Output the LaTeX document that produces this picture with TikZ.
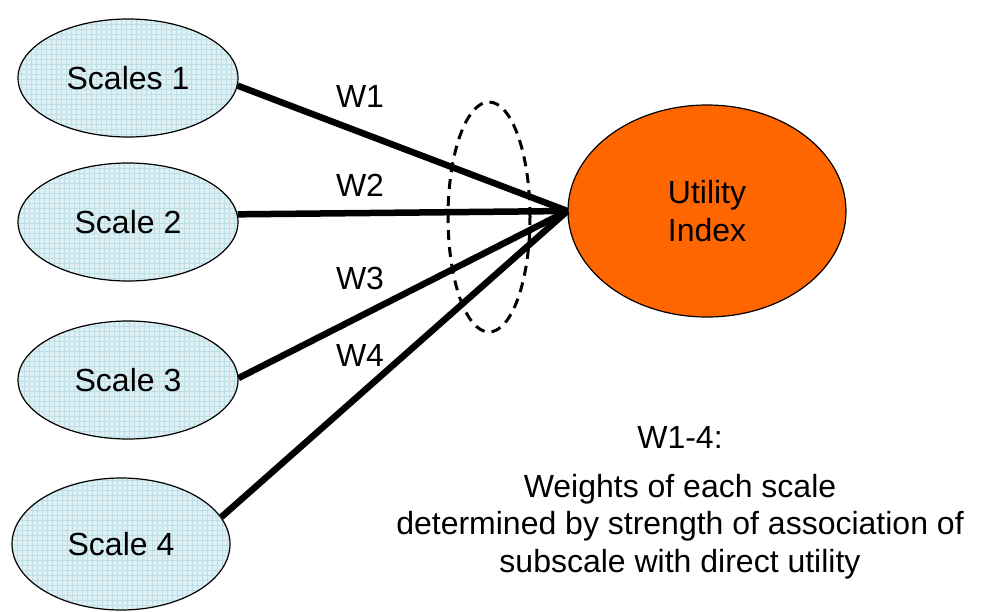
\documentclass[tikz,border=0pt]{standalone}
\usetikzlibrary{shapes.geometric}
\usepackage{fontspec}
\setmainfont{Liberation Sans}
\definecolor{scalefill}{RGB}{222,240,244}
\definecolor{scalegrid}{RGB}{188,222,230}
\definecolor{utilfill}{RGB}{255,102,0}
\tikzset{
  bigtext/.style={font=\fontsize{32}{36}\selectfont},
  scalenode/.style={ellipse, draw=black, line width=1.2pt, fill=scalefill,
    inner sep=0pt, minimum width=220pt, minimum height=118pt, bigtext,
    path picture={\draw[scalegrid, line width=0.4pt, step=5pt]
      (path picture bounding box.south west) grid (path picture bounding box.north east);}},
  link/.style={line width=6.5pt},
  wlabel/.style={bigtext},
}
\begin{document}
\begin{tikzpicture}[x=1pt,y=-1pt]
  \useasboundingbox (0,0) rectangle (982,611);
  % scale ellipses
  \node[scalenode] (s1) at (128,78) {Scales 1};
  \node[scalenode] (s2) at (128,222) {Scale 2};
  \node[scalenode] (s3) at (128,380) {Scale 3};
  \node[scalenode, minimum width=218pt, minimum height=132pt] (s4) at (121,544) {Scale 4};
  % target ellipse
  \node[ellipse, draw=black, line width=1.2pt, fill=utilfill, inner sep=0pt,
    minimum width=278pt, minimum height=212pt, align=center,
    font=\fontsize{32}{38}\selectfont] (u) at (707,211) {Utility\\Index};
  % weighted links
  \draw[link] (s1.-4) -- (u.west);
  \draw[link] (s2.4) -- (u.west);
  \draw[link] (s3.1) -- (u.west);
  \draw[link] (s4.15) -- (u.west);
  % grouping of the weights
  \node[ellipse, draw=black, line width=3pt, dash pattern=on 10pt off 7pt,
    inner sep=0pt, minimum width=82pt, minimum height=230pt] (grp) at (489,217) {};
  % weight labels
  \node[wlabel] (w1) at (360,96) {W1};
  \node[wlabel] (w2) at (360,185) {W2};
  \node[wlabel] (w3) at (360,278) {W3};
  \node[wlabel] (w4) at (360,355) {W4};
  % note
  \node[font=\fontsize{32}{37.5}\selectfont, align=center, anchor=north] (note) at (680,423)
    {W1-4:\\[11pt]Weights of each scale\\determined by strength of association of\\subscale with direct utility};
\end{tikzpicture}
\end{document}
